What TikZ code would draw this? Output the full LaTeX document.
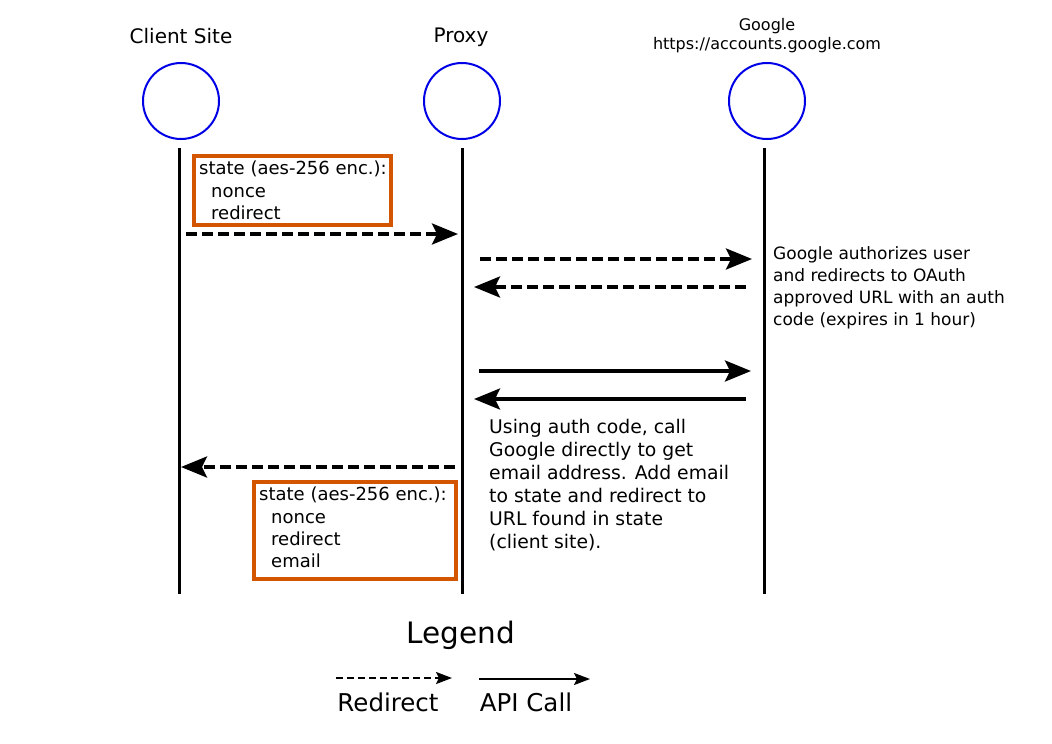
\documentclass[tikz,border=0pt]{standalone}
\usepackage{fontspec}
\setmainfont{DejaVu Sans}
\usetikzlibrary{arrows.meta}
\definecolor{boxorange}{RGB}{212,85,0}
\definecolor{actorblue}{RGB}{0,0,230}
\begin{document}
\begin{tikzpicture}[x=1pt,y=-1pt,
  actor/.style={circle,draw=actorblue,line width=2pt,minimum size=76pt,inner sep=0pt},
  lifeline/.style={line width=3pt},
  title/.style={inner sep=0pt,font=\fontsize{20}{24}\selectfont},
  statebox/.style={draw=boxorange,line width=4pt,inner sep=0pt,anchor=north west},
  statetext/.style={inner sep=0pt,align=left,anchor=north west,
    font=\fontsize{18}{22.3}\selectfont},
  note/.style={inner sep=0pt,align=left,anchor=north west},
  redirect/.style={line width=3.5pt,dash pattern=on 11pt off 5pt,
    -{Stealth[length=26pt,width=21pt,inset=5pt]}},
  apicall/.style={line width=3.5pt,-{Stealth[length=26pt,width=21pt,inset=5pt]}},
  legredirect/.style={line width=2pt,dash pattern=on 7pt off 4pt,
    -{Stealth[length=16pt,width=12pt,inset=3pt]}},
  legapicall/.style={line width=2pt,-{Stealth[length=16pt,width=12pt,inset=3pt]}}]
\useasboundingbox (0,0) rectangle (1052,744);
\fill[white] (0,0) rectangle (1052,744);

% titles
\node[title] (tc) at (181,36) {Client Site};
\node[title] (tp) at (461,37) {Proxy};
\node[inner sep=0pt,font=\fontsize{16}{20}\selectfont,align=center] (tg) at (767,35.5)
  {Google\\[-0.5pt]https://accounts.google.com};

% actors
\node[actor] (client) at (181,101) {};
\node[actor] (proxy) at (462,101) {};
\node[actor] (google) at (767,101) {};

% lifelines
\coordinate (ctop) at (179,148); \coordinate (cbot) at (179,594);
\coordinate (ptop) at (462,148); \coordinate (pbot) at (462,594);
\coordinate (gtop) at (764,148); \coordinate (gbot) at (764,594);
\draw[lifeline] (ctop) -- (cbot);
\draw[lifeline] (ptop) -- (pbot);
\draw[lifeline] (gtop) -- (gbot);

% state boxes
\node[statebox,minimum width=197pt,minimum height=69pt] (s1) at (192,154) {};
\node[statetext] (s1t) at (199,161)
  {state (aes-256 enc.):\\\hspace*{12pt}nonce\\\hspace*{12pt}redirect};
\node[statebox,minimum width=202pt,minimum height=97pt] (s2) at (252,480) {};
\node[statetext] (s2t) at (259,487)
  {state (aes-256 enc.):\\\hspace*{12pt}nonce\\\hspace*{12pt}redirect\\\hspace*{12pt}email};

% arrow end points
\coordinate (a1s) at (186,234); \coordinate (a1e) at (458,234);
\coordinate (a2s) at (480,259); \coordinate (a2e) at (752,259);
\coordinate (a3s) at (746,287); \coordinate (a3e) at (474,287);
\coordinate (a4s) at (479,371); \coordinate (a4e) at (751,371);
\coordinate (a5s) at (746,399); \coordinate (a5e) at (474,399);
\coordinate (a6s) at (455,467); \coordinate (a6e) at (181,467);

\draw[redirect] (a1s) -- (a1e);
\draw[redirect] (a2s) -- (a2e);
\draw[redirect] (a3s) -- (a3e);
\draw[apicall] (a4s) -- (a4e);
\draw[apicall] (a5s) -- (a5e);
\draw[redirect] (a6s) -- (a6e);

% notes
\node[note,font=\fontsize{17}{22.2}\selectfont] (n1) at (773,246)
  {Google authorizes user\\and redirects to OAuth\\approved URL with an auth\\code (expires in 1 hour)};
\node[note,font=\fontsize{18.8}{23}\selectfont] (n2) at (489,419)
  {Using auth code, call\\Google directly to get\\email address. Add email\\to state and redirect to\\URL found in state\\(client site).};

% legend
\node[inner sep=0pt,font=\fontsize{29.5}{34}\selectfont] (leg) at (461,635) {Legend};
\coordinate (l1s) at (336,678); \coordinate (l1e) at (452,678);
\coordinate (l2s) at (479,679); \coordinate (l2e) at (590,679);
\draw[legredirect] (l1s) -- (l1e);
\draw[legapicall] (l2s) -- (l2e);
\node[inner sep=0pt,font=\fontsize{24.5}{28}\selectfont] (lr) at (388,702) {Redirect};
\node[inner sep=0pt,font=\fontsize{24.5}{28}\selectfont] (la) at (526,702) {API Call};
\end{tikzpicture}
\end{document}
